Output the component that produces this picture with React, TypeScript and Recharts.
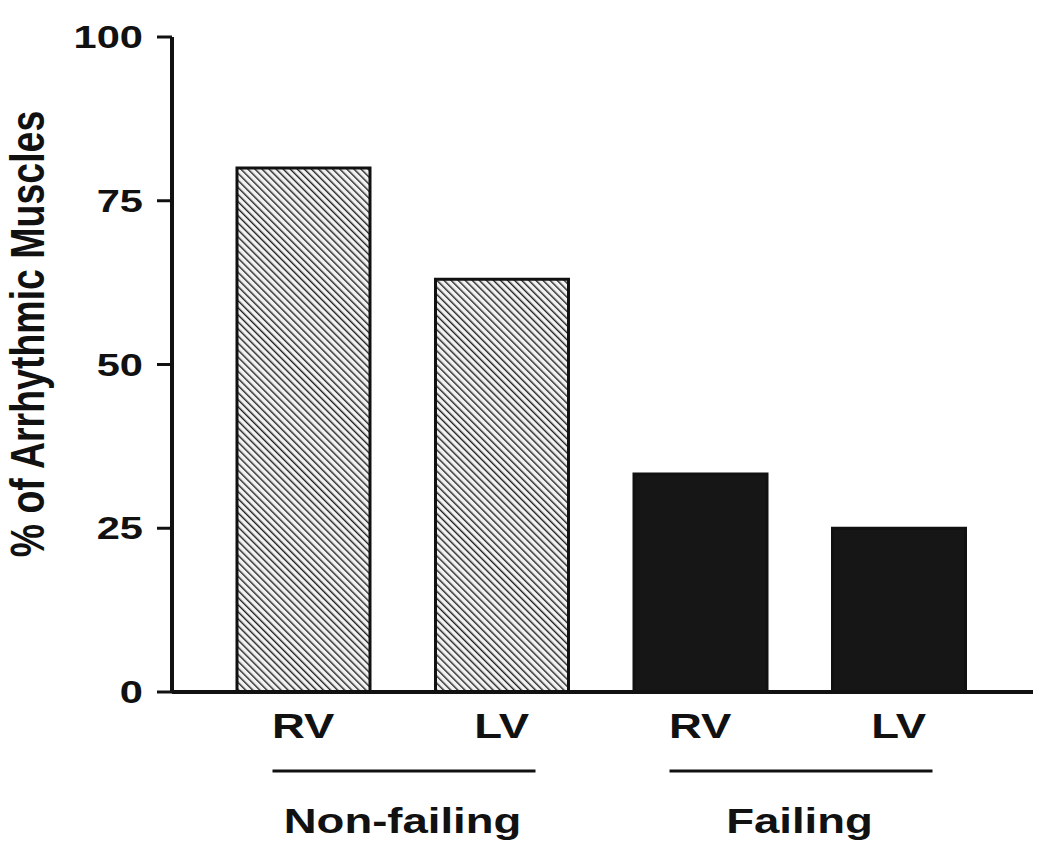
import React from "react";
import { BarChart, Bar, XAxis, YAxis, Cell } from "recharts";

const categories = ["RV", "LV", "RV", "LV"];
const groups = ["Non-failing", "Non-failing", "Failing", "Failing"];
const values = [80, 63, 33.3, 25];
const yTicks = [0, 25, 50, 75, 100];
const yLabel = "% of Arrhythmic Muscles";

const data = categories.map((c, i) => ({ category: c, group: groups[i], value: values[i] }));

const FONT = "'Liberation Sans', Arial, Helvetica, sans-serif";
const SX = 1.3;

const YTick = (props: any) => {
  const { x, y, payload } = props;
  return (
    <text
      transform={`translate(${x - 12},${y}) scale(${SX},1)`}
      textAnchor="end"
      dominantBaseline="central"
      fontFamily={FONT}
      fontWeight="bold"
      fontSize={32}
      fill="#111"
    >
      {payload.value}
    </text>
  );
};

const XTick = (props: any) => {
  const { x, y, payload } = props;
  return (
    <text
      transform={`translate(${x},${y + 46}) scale(${SX},1)`}
      textAnchor="middle"
      fontFamily={FONT}
      fontWeight="bold"
      fontSize={35}
      fill="#111"
    >
      {payload.value}
    </text>
  );
};

const GroupTick = (props: any) => {
  const { x, y, payload } = props;
  return (
    <g>
      <line x1={x - 130} x2={x + 133} y1={y + 19} y2={y + 19} stroke="#111" strokeWidth={3} />
      <text
        transform={`translate(${x},${y + 81}) scale(${SX},1)`}
        textAnchor="middle"
        fontFamily={FONT}
        fontWeight="bold"
        fontSize={35}
        fill="#111"
      >
        {payload.value}
      </text>
    </g>
  );
};

const YLabel = (props: any) => {
  const vb = props.viewBox || { x: 0, y: 37, width: 172, height: 655 };
  const cx = vb.x + 27;
  const cy = 334;
  return (
    <text
      transform={`translate(${cx},${cy}) scale(${SX},1) rotate(-90)`}
      textAnchor="middle"
      dominantBaseline="central"
      fontFamily={FONT}
      fontWeight="bold"
      fontSize={37.5}
      fill="#111"
    >
      {yLabel}
    </text>
  );
};

export default function App() {
  return (
    <div style={{ position: "absolute", left: 0, top: 0, background: "#fff" }}>
      <BarChart
        width={1050}
        height={847}
        data={data}
        margin={{ top: 37, right: 17, bottom: 0, left: 0 }}
        barSize={133}
      >
        <defs>
          <pattern id="hatch" patternUnits="userSpaceOnUse" width={5} height={5} patternTransform="rotate(-45)">
            <rect x={0} y={0} width={5} height={5} fill="#f2f2f2" />
            <line x1={0} y1={0} x2={0} y2={5} stroke="#222" strokeWidth={2.8} />
          </pattern>
        </defs>
        <YAxis
          width={172}
          domain={[0, 100]}
          ticks={yTicks}
          interval={0}
          axisLine={{ stroke: "#111", strokeWidth: 4 }}
          tickLine={{ stroke: "#111", strokeWidth: 3 }}
          tickSize={15}
          tick={<YTick />}
          label={{ content: (p: any) => <YLabel {...p} /> }}
        />
        <XAxis
          dataKey="category"
          height={60}
          padding={{ left: 32, right: 35 }}
          axisLine={{ stroke: "#111", strokeWidth: 4 }}
          tickLine={false}
          tickSize={0}
          tickMargin={0}
          tick={<XTick />}
          interval={0}
        />
        <XAxis
          xAxisId="g"
          dataKey="group"
          allowDuplicatedCategory={false}
          height={95}
          padding={{ left: 32, right: 35 }}
          axisLine={false}
          tickLine={false}
          tickSize={0}
          tickMargin={0}
          tick={<GroupTick />}
          interval={0}
        />
        <Bar dataKey="value" stroke="#111" strokeWidth={3} isAnimationActive={false}>
          {data.map((d, i) => (
            <Cell key={i} fill={d.group === "Non-failing" ? "url(#hatch)" : "#161616"} />
          ))}
        </Bar>
      </BarChart>
    </div>
  );
}
